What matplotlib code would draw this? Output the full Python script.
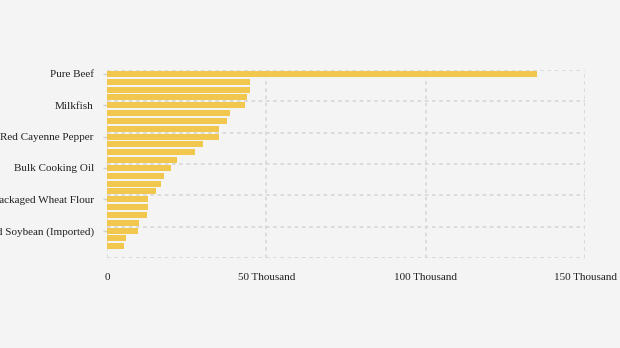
import matplotlib
matplotlib.use("Agg")
import matplotlib.pyplot as plt
from matplotlib.ticker import FuncFormatter

# commodity prices, sorted high to low (only every 4th name is shown on the chart)
commodities = [
    "Pure Beef", "Shallot", "Garlic Bulb", "Red Curly Chili",
    "Milkfish", "Broiler Chicken Meat", "Mackerel", "Tuna",
    "Red Cayenne Pepper", "Broiler Chicken Egg", "Bird's Eye Chili", "Premium Rice",
    "Bulk Cooking Oil", "Packaged Cooking Oil", "Consumption Sugar", "Medium Rice",
    "Packaged Wheat Flour", "Bulk Wheat Flour", "SPHP Rice", "Consumption Salt",
    "Dried Soybean (Imported)", "Farmer Corn", "Feed Corn",
]
prices = [
    134.8, 44.9, 44.9, 43.9,
    43.3, 38.6, 37.6, 35.1,
    35.1, 30.1, 27.6, 22.0,
    20.1, 17.9, 16.9, 15.4,
    12.9, 12.9, 12.6, 10.0,
    9.7, 6.0, 5.3,
]  # thousand
x_ticks = [0, 50, 100, 150]

bg = "#f4f4f4"
bar_color = "#f2c74e"
grid_color = "#d9d9d9"

plt.rcParams["font.family"] = ["Liberation Serif", "DejaVu Serif"]

fig = plt.figure(figsize=(6.2, 3.48), dpi=100, facecolor=bg)
ax = fig.add_axes([107 / 620, (348 - 258) / 348, (585 - 107) / 620, (258 - 70) / 348])
ax.set_facecolor(bg)

pos = list(range(len(prices)))
ax.barh(pos, prices, height=0.76, color=bar_color, zorder=2)

ax.set_ylim(len(prices) + 0.5, -0.5)
ax.set_xlim(0, 150)

# labels every 4th bar, grid on the band edges
ax.set_yticks(pos[::4])
ax.set_yticklabels(commodities[::4])
ax.set_yticks([p - 0.5 for p in range(0, len(prices) + 2, 4)], minor=True)
ax.set_xticks(x_ticks)
ax.xaxis.set_major_formatter(FuncFormatter(lambda v, _: "0" if v == 0 else f"{int(v)} Thousand"))

ax.grid(axis="y", which="minor", color=grid_color, linestyle=(0, (2, 2)), linewidth=1.3, zorder=1)
ax.grid(axis="x", which="major", color=grid_color, linestyle=(0, (2, 2)), linewidth=1.3, zorder=1)

for s in ax.spines.values():
    s.set_visible(False)

ax.tick_params(axis="x", length=0, pad=10.5, labelsize=8, colors="#222222")
ax.tick_params(axis="y", which="major", length=3, width=1, color="#d0d0d0", pad=6.5, labelsize=8, labelcolor="#222222")
ax.tick_params(axis="y", which="minor", length=0)

fig.savefig("out.png", dpi=100, facecolor=bg)
